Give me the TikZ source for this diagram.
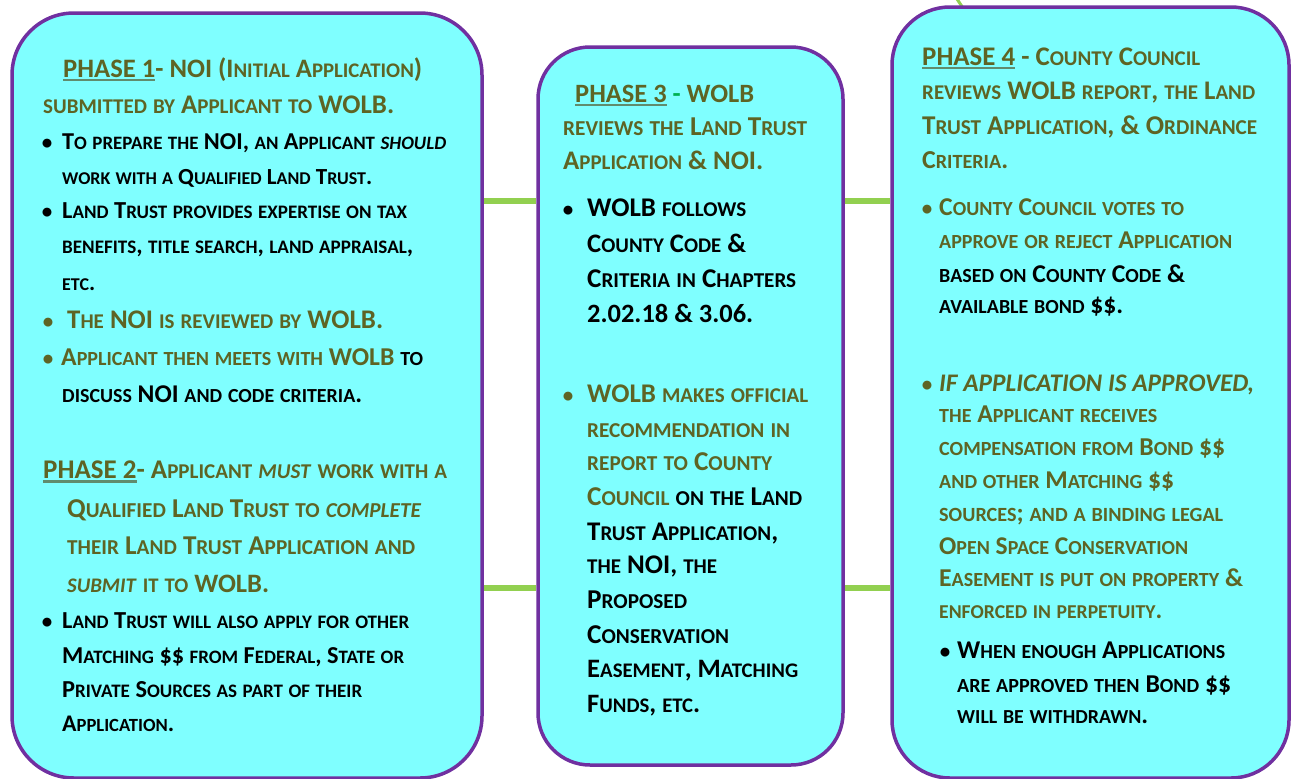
\documentclass[tikz,border=0pt]{standalone}
\usepackage{fontspec}
\setmainfont{Carlito}
\usepackage{graphicx}
\definecolor{phasefill}{HTML}{7FFFFF}
\definecolor{phaseline}{HTML}{7030A0}
\definecolor{linkgreen}{HTML}{92D050}
\definecolor{phasetext}{HTML}{5E6424}
\definecolor{phaseul}{HTML}{608C6E}
\definecolor{dashgreen}{HTML}{00B050}

% fake small caps: lower case runs set as smaller capitals
\newcommand{\lowsc}[1]{{\fontsize{15.6}{18}\selectfont\MakeUppercase{#1}}}
\ExplSyntaxOn
\tl_new:N \l_phase_tl
\NewDocumentCommand \fsc { m }
 {
  \tl_set:Nn \l_phase_tl { #1 }
  \regex_replace_all:nnN { ([a-z]+) } { \c{lowsc} \cB\{ \1 \cE\} } \l_phase_tl
  \tl_use:N \l_phase_tl
 }
\ExplSyntaxOff
\newcommand{\fitrow}[2]{\resizebox{#1pt}{!}{\fsc{#2}}}
\newcommand{\phul}[1]{\vtop{\hbox{#1}\kern1.4pt{\color{phaseul}\hrule height 1.8pt}}}
\newcommand{\bk}[1]{\textcolor{black}{#1}}
\newcommand{\gdash}{\textcolor{dashgreen}{-}}

\tikzset{
	phasebox/.style={draw=phaseline, fill=phasefill, line width=3.5pt, rounded corners=#1},
	link/.style={draw=linkgreen, line width=6pt},
	rowtext/.style={anchor=base west, inner sep=0pt, text=phasetext, font=\bfseries\fontsize{20}{24}\selectfont},
	dark/.style={text=black},
	dot/.style={anchor=base, inner sep=0pt, font=\bfseries\fontsize{21}{24}\selectfont}
}

\begin{document}
\begin{tikzpicture}[x=1pt,y=-1pt]
		\useasboundingbox (0,0) rectangle (1291,779);
		
		%stub leaving the top
		\coordinate (tickfoot) at (963,8);
		\coordinate (tickend) at (957,-1);
		\draw[link, line width=3pt] (tickfoot) -- (tickend);
		
		%the three boxes
		\node[phasebox=62pt, minimum width=470pt, minimum height=765pt] (phaseA) at (247,395.5) {};
		\node[phasebox=52pt, minimum width=305pt, minimum height=718pt] (phaseB) at (690.5,406) {};
		\node[phasebox=58pt, minimum width=397pt, minimum height=771pt] (phaseC) at (1090.5,392.5) {};
		
		%green links
		\coordinate (upper) at (0,201);
		\coordinate (lower) at (0,588);
		\draw[link] (phaseA.east |- upper) -- (phaseB.west |- upper);
		\draw[link] (phaseA.east |- lower) -- (phaseB.west |- lower);
		\draw[link] (phaseB.east |- upper) -- (phaseC.west |- upper);
		\draw[link] (phaseB.east |- lower) -- (phaseC.west |- lower);
		
		%bullet points
		\foreach \y in {149,218,628}
		\node[dot, text=black] (dotA\y) at (47,\y) {\textbullet};
		\foreach \y in {328,365}
		\node[dot, text=phasetext] (dotA\y) at (48,\y) {\textbullet};
		\node[dot, text=black] (dotB216) at (568,216) {\textbullet};
		\node[dot, text=phasetext] (dotB402) at (568,402) {\textbullet};
		\foreach \y in {215,391}
		\node[dot, text=phasetext] (dotC\y) at (927,\y) {\textbullet};
		\node[dot, text=black] (dotC658) at (945,658) {\textbullet};
		
		%phase 1 and 2
		\node[rowtext] (a1) at (63,77) {\fitrow{359}{\phul{PHASE 1}- NOI (Initial Application)}};
		\node[rowtext] (a2) at (43,113) {\fitrow{351}{submitted by Applicant to WOLB.}};
		\node[rowtext, dark] (a3) at (62,149) {\fitrow{384}{To prepare the NOI, an Applicant \textit{should}}};
		\node[rowtext, dark] (a4) at (62,184) {\fitrow{310}{work with a Qualified Land Trust.}};
		\node[rowtext, dark] (a5) at (62,218) {\fitrow{345}{Land Trust provides expertise on tax}};
		\node[rowtext, dark] (a6) at (62,253) {\fitrow{351}{benefits, title search, land appraisal,}};
		\node[rowtext, dark] (a7) at (62,290) {\fitrow{33}{etc.}};
		\node[rowtext] (a8) at (67,328) {\fitrow{316}{The NOI is reviewed by WOLB.}};
		\node[rowtext] (a9) at (61,365) {\fitrow{362}{Applicant then meets with WOLB \bk{to}}};
		\node[rowtext, dark] (a10) at (62,402) {\fitrow{300}{discuss NOI and code criteria.}};
		\node[rowtext] (a11) at (43,478) {\fitrow{404}{\phul{PHASE 2}- Applicant \textit{must} work with a}};
		\node[rowtext] (a12) at (67,517) {\fitrow{354}{Qualified Land Trust to \textit{complete}}};
		\node[rowtext] (a13) at (67,554) {\fitrow{348}{their Land Trust Application and}};
		\node[rowtext] (a14) at (67,592) {\fitrow{202}{\textit{submit} it to WOLB.}};
		\node[rowtext, dark] (a15) at (62,628) {\fitrow{347}{Land Trust will also apply for other}};
		\node[rowtext, dark] (a16) at (62,663) {\fitrow{342}{Matching \$\$ from Federal, State or}};
		\node[rowtext, dark] (a17) at (62,697) {\fitrow{300}{Private Sources as part of their}};
		\node[rowtext, dark] (a18) at (62,731) {\fitrow{112}{Application.}};
		
		%phase 3
		\node[rowtext] (b1) at (575,102) {\fitrow{179}{\phul{PHASE 3} \gdash{} WOLB}};
		\node[rowtext] (b2) at (563,135) {\fitrow{244}{reviews the Land Trust}};
		\node[rowtext] (b3) at (563,169) {\fitrow{200}{Application \& NOI.}};
		\node[rowtext, dark] (b4) at (587,216) {\fitrow{159}{WOLB follows}};
		\node[rowtext, dark] (b5) at (587,252) {\fitrow{159}{County Code \&}};
		\node[rowtext, dark] (b6) at (587,287) {\fitrow{209}{Criteria in Chapters}};
		\node[rowtext, dark] (b7) at (587,322) {\fitrow{166}{2.02.18 \& 3.06.}};
		\node[rowtext] (b8) at (587,402) {\fitrow{221}{WOLB makes official}};
		\node[rowtext] (b9) at (587,437) {\fitrow{203}{recommendation in}};
		\node[rowtext] (b10) at (587,470) {\fitrow{185}{report to County}};
		\node[rowtext] (b11) at (587,505) {\fitrow{215}{Council \bk{on the Land}}};
		\node[rowtext, dark] (b12) at (587,540) {\fitrow{191}{Trust Application,}};
		\node[rowtext, dark] (b13) at (587,573) {\fitrow{130}{the NOI, the}};
		\node[rowtext, dark] (b14) at (587,608) {\fitrow{100}{Proposed}};
		\node[rowtext, dark] (b15) at (587,643) {\fitrow{142}{Conservation}};
		\node[rowtext, dark] (b16) at (587,677) {\fitrow{211}{Easement, Matching}};
		\node[rowtext, dark] (b17) at (587,712) {\fitrow{113}{Funds, etc.}};
		
		%phase 4
		\node[rowtext] (c1) at (922,65) {\fitrow{278}{\phul{PHASE 4} - County Council}};
		\node[rowtext] (c2) at (922,99) {\fitrow{333}{reviews WOLB report, the Land}};
		\node[rowtext] (c3) at (922,134) {\fitrow{335}{Trust Application, \& Ordinance}};
		\node[rowtext] (c4) at (922,168) {\fitrow{86}{Criteria.}};
		\node[rowtext] (c5) at (939,215) {\fitrow{245}{County Council votes to}};
		\node[rowtext] (c6) at (939,248) {\fitrow{293}{approve or reject Application}};
		\node[rowtext, dark] (c7) at (939,282) {\fitrow{246}{based on County Code \&}};
		\node[rowtext, dark] (c8) at (939,313) {\fitrow{184}{available bond \$\$.}};
		\node[rowtext] (c9) at (939,391) {\fitrow{315}{\textit{IF APPLICATION IS APPROVED,}}};
		\node[rowtext] (c10) at (939,422) {\fitrow{218}{the Applicant receives}};
		\node[rowtext] (c11) at (939,455) {\fitrow{286}{compensation from Bond \$\$}};
		\node[rowtext] (c12) at (939,488) {\fitrow{235}{and other Matching \$\$}};
		\node[rowtext] (c13) at (939,521) {\fitrow{284}{sources; and a binding legal}};
		\node[rowtext] (c14) at (939,554) {\fitrow{249}{Open Space Conservation}};
		\node[rowtext] (c15) at (939,586) {\fitrow{304}{Easement is put on property \&}};
		\node[rowtext] (c16) at (939,618) {\fitrow{223}{enforced in perpetuity.}};
		\node[rowtext, dark] (c17) at (957,658) {\fitrow{268}{When enough Applications}};
		\node[rowtext, dark] (c18) at (957,692) {\fitrow{274}{are approved then Bond \$\$}};
		\node[rowtext, dark] (c19) at (957,723) {\fitrow{191}{will be withdrawn.}};
\end{tikzpicture}
\end{document}
